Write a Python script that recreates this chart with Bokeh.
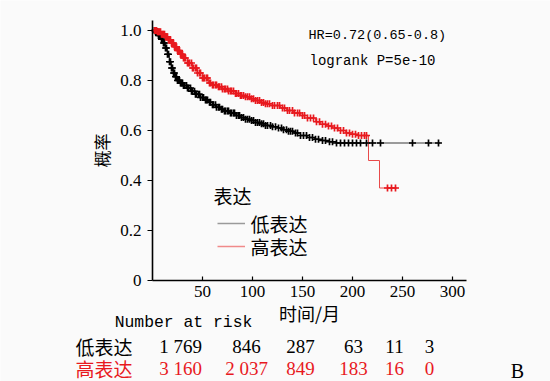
import numpy as np
from bokeh.plotting import figure
from bokeh.models import Legend, LegendItem, Label, Range1d, FixedTicker
from bokeh.embed import file_html
from bokeh.resources import INLINE

# ---------------- data ----------------
low_t = [0, 3, 6, 9, 11, 13, 15, 17, 19, 21, 23, 25, 28, 31, 35, 39, 43, 48, 52, 56, 60, 64, 68, 72,
         77, 83, 88, 93, 98, 103, 108, 113, 119, 125, 130, 135, 141, 148, 155, 162, 168, 175, 183, 288]
low_s = [1.0, 0.995, 0.98, 0.965, 0.95, 0.93, 0.905, 0.875, 0.85, 0.83, 0.815, 0.80, 0.79, 0.78, 0.77,
         0.757, 0.745, 0.732, 0.722, 0.713, 0.703, 0.693, 0.685, 0.678, 0.67, 0.66, 0.652, 0.645, 0.64,
         0.632, 0.627, 0.62, 0.615, 0.61, 0.603, 0.597, 0.59, 0.58, 0.572, 0.565, 0.56, 0.555, 0.55, 0.55]

high_t = [0, 5, 9, 13, 16, 19, 22, 25, 28, 31, 35, 40, 45, 50, 56, 60, 65, 70, 76, 83, 88, 93, 98, 103,
          108, 113, 120, 128, 134, 141, 148, 155, 163, 168, 174, 180, 186, 193, 200, 206, 216, 227, 245]
high_s = [1.0, 0.995, 0.985, 0.975, 0.963, 0.95, 0.935, 0.92, 0.905, 0.89, 0.87, 0.85, 0.83, 0.81, 0.79,
          0.782, 0.775, 0.766, 0.758, 0.748, 0.74, 0.735, 0.727, 0.72, 0.712, 0.707, 0.70, 0.69, 0.68,
          0.67, 0.66, 0.65, 0.635, 0.625, 0.618, 0.61, 0.60, 0.59, 0.585, 0.58, 0.48, 0.37, 0.37]

low_cens = [2, 3, 4, 5, 6, 7, 8, 9, 10, 11, 12, 13, 14, 15, 16, 17, 18, 19, 20, 21, 22, 23, 24, 25, 26, 27,
            28, 29, 30, 31, 32, 34, 35, 36, 38, 39, 40, 42, 43, 44, 46, 47, 48, 50, 51, 53, 54, 55, 57, 58,
            60, 61, 63, 64, 66, 67, 69, 70, 72, 73, 75, 76, 78, 79, 81, 82, 84, 86, 87, 89, 91, 93, 95, 97,
            99, 101, 103, 105, 107, 109, 111, 113, 115, 118, 120, 123, 126, 129, 131, 134, 136, 138, 140,
            143, 145, 148, 151, 154, 157, 160, 163, 166, 170, 173, 177, 180, 184, 188, 192, 196, 200, 204,
            208, 214, 220, 228, 260, 276, 286]
high_cens = [2, 3, 4, 5, 6, 7, 8, 9, 10, 11, 12, 13, 14, 15, 16, 17, 18, 19, 20, 21, 22, 23, 24, 25, 26,
             27, 28, 29, 30, 31, 32, 33, 35, 36, 37, 39, 40, 41, 43, 44, 45, 47, 48, 50, 51, 52, 54, 55, 57,
             58, 60, 61, 63, 64, 66, 67, 69, 70, 72, 73, 75, 76, 78, 79, 81, 83, 84, 86, 88, 89, 91, 93, 95,
             97, 99, 101, 103, 105, 107, 109, 111, 113, 115, 117, 120, 122, 125, 127, 130, 132, 135, 137,
             140, 142, 145, 147, 150, 152, 155, 158, 161, 164, 167, 170, 173, 176, 179, 182, 185, 188, 191,
             194, 197, 200, 203, 206, 209, 212, 214, 235, 239, 243]

groups = ["低表达", "高表达"]
legend_title = "表达"
x_ticks = [50, 100, 150, 200, 250, 300]
y_ticks = [0, 0.2, 0.4, 0.6, 0.8, 1.0]

risk_title = "Number at risk"
risk_low = ["1 769", "846", "287", "63", "11", "3"]
risk_high = ["3 160", "2 037", "849", "183", "16", "0"]
risk_x = [28, 94, 148, 201, 242, 277]

hr_text = "HR=0.72(0.65-0.8)"
p_text = "logrank P=5e-10"
panel_letter = "B"

# ---------------- styling ----------------
BG = "#fafafa"
RED = "#e8191e"
SERIF = "Liberation Serif"
CJK = "Noto Sans CJK SC"
MONO = "Liberation Mono"


def km_at(ts, ss, q):
    idx = np.searchsorted(np.asarray(ts), np.asarray(q), side="right") - 1
    return np.asarray(ss)[idx]


# frame covers the whole canvas; axes are fixed at x=0 / y=0 and bounded
p = figure(width=550, height=381, output_backend="svg", toolbar_location=None,
           x_range=Range1d(-152, 398), y_range=Range1d(-0.404, 1.12),
           min_border_left=0, min_border_right=0, min_border_top=0, min_border_bottom=0,
           background_fill_color=BG, border_fill_color=BG)
p.outline_line_color = None
p.grid.visible = False

# curves
p.step(low_t, low_s, mode="after", line_color="#3a3a3a", line_width=1)
p.step(high_t, high_s, mode="after", line_color="#e84a4a", line_width=1)
p.scatter(low_cens, km_at(low_t, low_s, low_cens), marker="cross", size=7,
          line_color="black", line_width=1.7)
p.scatter(high_cens, km_at(high_t, high_s, high_cens), marker="cross", size=7,
          line_color=RED, line_width=1.7)

# legend: glyph lines from a Legend, texts as labels
dl = p.line(x=[np.nan], y=[np.nan], line_color="#9a9a9a", line_width=1.5)
dh = p.line(x=[np.nan], y=[np.nan], line_color="#f08a8a", line_width=1.5)
leg = Legend(items=[LegendItem(label=" ", renderers=[dl]),
                    LegendItem(label=" ", renderers=[dh])],
             location=(217, 125), padding=0, margin=0, spacing=3,
             glyph_width=28, glyph_height=20, label_height=20, label_standoff=0,
             label_text_font_size="8px", background_fill_alpha=0, border_line_alpha=0)
p.add_layout(leg, "center")
p.add_layout(Label(x=61, y=0.34, text=legend_title, text_font=CJK, text_font_size="19px",
                   text_baseline="middle", text_color="black"))
for lab, yy in zip(groups, (0.228, 0.136)):
    p.add_layout(Label(x=98, y=yy, text=lab, text_font=CJK, text_font_size="19px",
                       text_baseline="middle", text_color="black"))

# axes
for ax in (p.xaxis[0], p.yaxis[0]):
    ax.fixed_location = 0
    ax.axis_line_color = "black"
    ax.axis_line_width = 1.6
    ax.major_tick_line_color = "black"
    ax.major_tick_line_width = 1.2
    ax.minor_tick_line_color = None
    ax.major_label_text_font = SERIF
    ax.major_label_text_font_size = "17px"
    ax.major_label_text_color = "black"
    ax.axis_label_text_font = CJK
    ax.axis_label_text_font_style = "normal"
    ax.axis_label_text_color = "black"

p.xaxis.bounds = (0, 314)
p.xaxis.ticker = FixedTicker(ticks=x_ticks)
p.xaxis.major_tick_in = 4
p.xaxis.major_tick_out = 0
p.xaxis.major_label_standoff = 5
p.xaxis.axis_label = "时间/月"
p.xaxis.axis_label_text_font_size = "18px"
p.xaxis.axis_label_standoff = 0

p.yaxis.bounds = (0, 1.04)
p.yaxis.ticker = FixedTicker(ticks=y_ticks)
p.yaxis.major_tick_in = 0
p.yaxis.major_tick_out = 5
p.yaxis.major_label_standoff = 6
p.yaxis.major_label_overrides = {0: "0", 0.2: "0.2", 0.4: "0.4", 0.6: "0.6", 0.8: "0.8", 1.0: "1.0"}
p.yaxis.axis_label = "概率"
p.yaxis.axis_label_text_font_size = "17px"
p.yaxis.axis_label_standoff = 3

# statistics text
p.add_layout(Label(x=156, y=0.98, text=hr_text, text_font=MONO, text_font_size="13.5px",
                   text_baseline="middle", text_color="black"))
p.add_layout(Label(x=157, y=0.88, text=p_text, text_font=MONO, text_font_size="14px",
                   text_baseline="middle", text_color="black"))

# number-at-risk table
p.add_layout(Label(x=31, y=-0.168, text=risk_title, text_font=MONO, text_font_size="16.4px",
                   text_align="center", text_baseline="middle", text_color="black"))
for row, vals, col, yy in ((groups[0], risk_low, "black", -0.264), (groups[1], risk_high, RED, -0.352)):
    p.add_layout(Label(x=-48.5, y=yy, text=row, text_font=CJK, text_font_size="19px",
                       text_align="center", text_baseline="middle", text_color=col))
    for xv, v in zip(risk_x, vals):
        p.add_layout(Label(x=xv, y=yy, text=v, text_font=SERIF, text_font_size="19px",
                           text_align="center", text_baseline="middle", text_color=col))

p.add_layout(Label(x=365, y=-0.36, text=panel_letter, text_font=SERIF, text_font_size="20px",
                   text_align="center", text_baseline="middle", text_color="black"))

open("out.html", "w").write(file_html(p, INLINE))
